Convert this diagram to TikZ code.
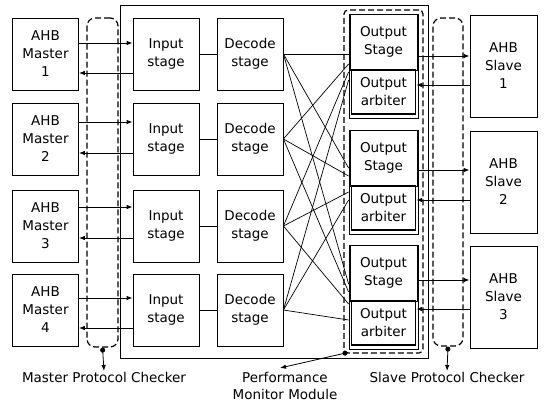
\documentclass[tikz,border=0pt]{standalone}
\usepackage{fontspec}
\setmainfont{DejaVu Sans}
\usetikzlibrary{positioning,calc,arrows.meta}

\tikzset{
  blk/.style={draw,line width=0.8pt,minimum width=66pt,minimum height=72pt,
    inner sep=0pt,align=center,font=\fontsize{13.5}{18}\selectfont},
  grpbox/.style={draw,line width=0.8pt,minimum width=69pt,minimum height=104pt,inner sep=0pt},
  arbbox/.style={blk,line width=1.3pt,minimum width=64pt,minimum height=44pt},
  chk/.style={draw,dashed,line width=1.2pt,dash pattern=on 6pt off 3pt,inner sep=0pt,rounded corners=8pt},
  lbl/.style={inner sep=1pt,align=center,font=\fontsize{13.5}{17}\selectfont},
  tap/.style={{Circle[length=5pt]}-{Latex[length=6pt,width=4.5pt]},line width=0.8pt}
}

\begin{document}
\begin{tikzpicture}[x=1pt,y=-1pt,>={Latex[length=6pt,width=4.5pt]}]
    \useasboundingbox (0,0) rectangle (545,406);
    % bus matrix frame
    \draw[line width=0.8pt] (120,5) rectangle (428,358);
    % master side
    \foreach \i/\y in {1/54,2/139,3/226,4/310}{
      \node[blk] (m\i) at (45.5,\y) {AHB\\Master\\\i};
      \node[blk] (in\i) at (166,\y) {Input\\stage};
      \node[blk] (dec\i) at (250,\y) {Decode\\stage};
      \draw[line width=0.8pt] (in\i) -- (dec\i);
    }
    \foreach \i/\ya/\yb in {1/43/73, 2/122/153, 3/207/238, 4/298/328}{
      \draw[->,line width=0.8pt] (m\i.east |- 0,\ya) -- (in\i.west |- 0,\ya);
      \draw[->,line width=0.8pt] (in\i.west |- 0,\yb) -- (m\i.east |- 0,\yb);
    }
    % slave side
    \foreach \j/\yt in {1/14,2/130,3/245}{
      \node[grpbox] (grp\j) at (383.5,\yt+52) {};
      \node[blk,minimum width=67pt,minimum height=56pt] (os\j) at (383.5,\yt+28) {Output\\Stage};
      \node[arbbox] (arb\j) at (383.5,\yt+78) {Output\\arbiter};
      \node[blk,minimum width=67pt,minimum height=102pt] (s\j) at (503.5,\yt+52) {AHB\\Slave\\\j};
    }
    \foreach \j/\ya/\yb in {1/56/85, 2/170/200, 3/280/309}{
      \draw[->,line width=0.8pt] (os\j.east |- 0,\ya) -- (s\j.west |- 0,\ya);
      \draw[->,line width=0.8pt] (s\j.west |- 0,\yb) -- (arb\j.east |- 0,\yb);
    }
    % crossbar
    \foreach \i/\a/\b/\c in {1/54/168/284, 2/64/176/292, 3/72/192/304, 4/80/200/320}{
      \draw[line width=0.7pt] (dec\i.east) -- (grp1.west |- 0,\a);
      \draw[line width=0.7pt] (dec\i.east) -- (grp2.west |- 0,\b);
      \draw[line width=0.7pt] (dec\i.east) -- (grp3.west |- 0,\c);
    }
    % checkers and monitor
    \node[chk,minimum width=31pt,minimum height=329pt] (mpc) at (102.5,182.5) {};
    \node[chk,minimum width=30pt,minimum height=328pt] (spc) at (448,182) {};
    \node[chk,rounded corners=4pt,minimum width=79pt,minimum height=343pt] (pmm) at (383.5,181.5) {};
    \node[lbl,anchor=north] (mpcl) at (104,371) {Master Protocol Checker};
    \node[lbl,anchor=north] (spcl) at (447,371) {Slave Protocol Checker};
    \node[lbl,anchor=north] (pmml) at (285,371) {Performance\\Monitor Module};
    \draw[tap] (mpc.south) -- (mpcl.north);
    \draw[tap] (spc.south) -- (spcl.north);
    \draw[tap] ($(pmm.south west)+(4,-1)$) -- ($(pmml.north)+(-5,-3)$);
  \end{tikzpicture}
\end{document}
